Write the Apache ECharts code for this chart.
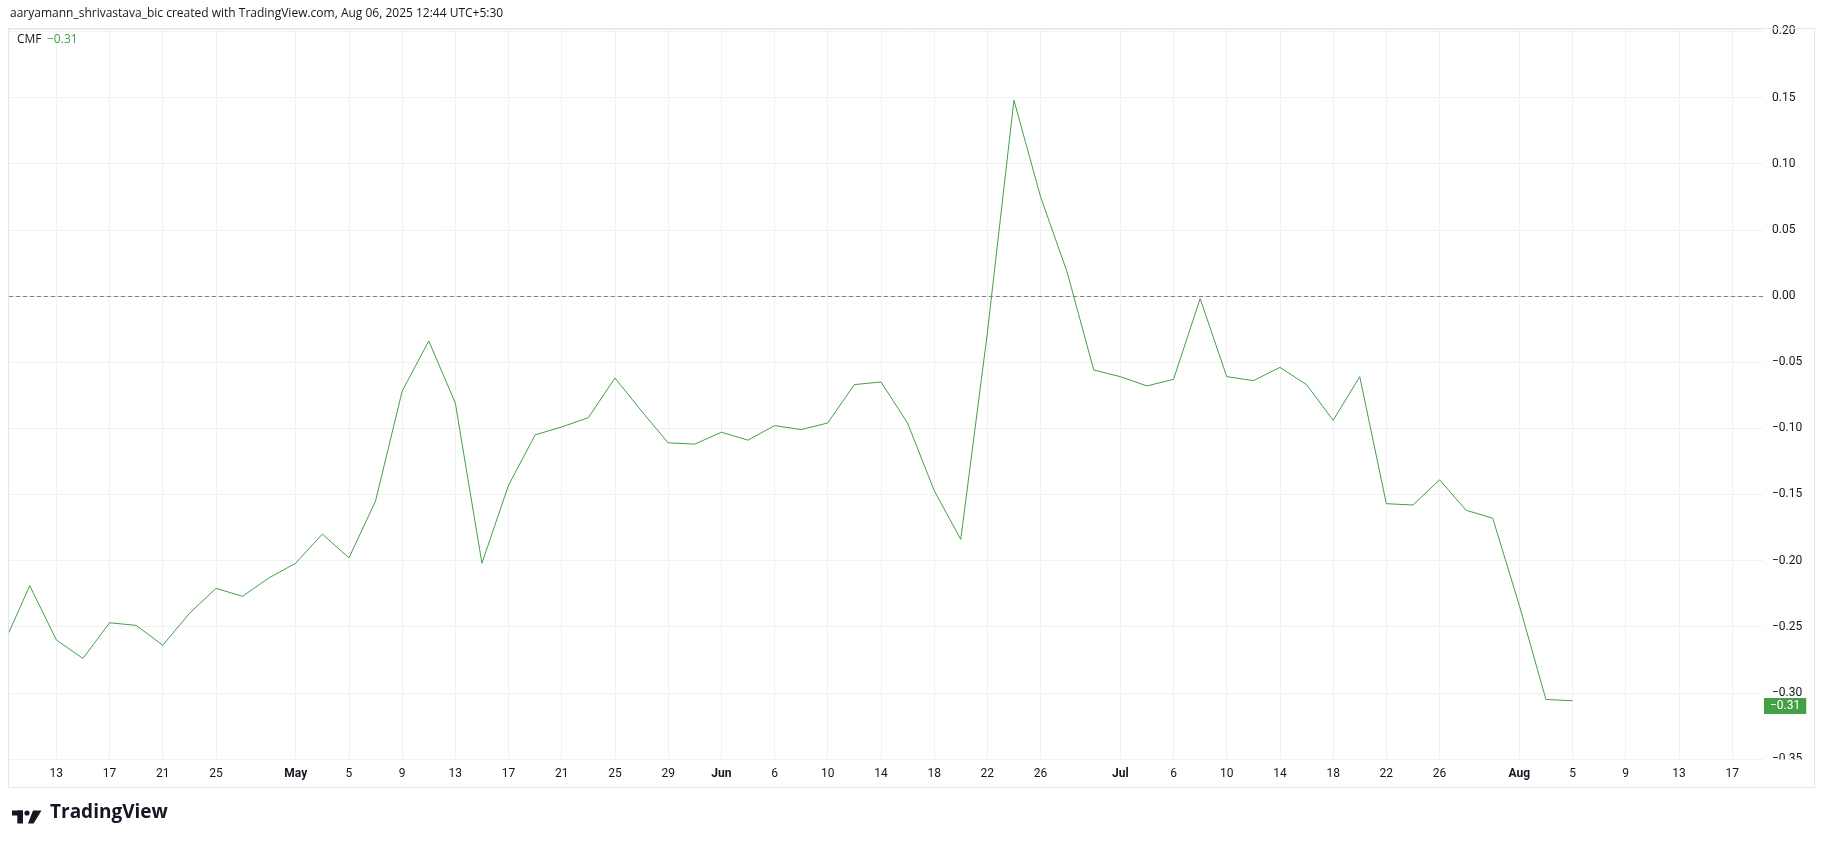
<!DOCTYPE html>
<html>
<head>
<meta charset="utf-8">
<script src="https://cdn.jsdelivr.net/npm/echarts@6/dist/echarts.min.js"></script>
<style>
html,body{margin:0;padding:0;background:#fff;}
#chart{width:1825px;height:849px;}
</style>
</head>
<body>
<div id="chart"></div>
<script>
// ---- data (2-day bars) ----
const barDates = [
  '2025-04-09','2025-04-11','2025-04-13','2025-04-15','2025-04-17','2025-04-19','2025-04-21','2025-04-23','2025-04-25','2025-04-27','2025-04-29',
  '2025-05-01','2025-05-03','2025-05-05','2025-05-07','2025-05-09','2025-05-11','2025-05-13','2025-05-15','2025-05-17','2025-05-19','2025-05-21','2025-05-23','2025-05-25','2025-05-27','2025-05-29','2025-05-31',
  '2025-06-02','2025-06-04','2025-06-06','2025-06-08','2025-06-10','2025-06-12','2025-06-14','2025-06-16','2025-06-18','2025-06-20','2025-06-22','2025-06-24','2025-06-26','2025-06-28','2025-06-30',
  '2025-07-02','2025-07-04','2025-07-06','2025-07-08','2025-07-10','2025-07-12','2025-07-14','2025-07-16','2025-07-18','2025-07-20','2025-07-22','2025-07-24','2025-07-26','2025-07-28','2025-07-30',
  '2025-08-01','2025-08-03','2025-08-05'
];
const cmfValues = [
  -0.264,-0.219,-0.260,-0.274,-0.247,-0.249,-0.264,-0.240,-0.221,-0.227,-0.213,
  -0.202,-0.180,-0.198,-0.155,-0.072,-0.034,-0.081,-0.202,-0.143,-0.105,-0.099,-0.092,-0.062,-0.087,-0.111,-0.112,
  -0.103,-0.109,-0.098,-0.101,-0.096,-0.067,-0.065,-0.096,-0.147,-0.184,-0.028,0.148,0.075,0.018,-0.056,
  -0.061,-0.068,-0.063,-0.002,-0.061,-0.064,-0.054,-0.067,-0.094,-0.061,-0.157,-0.158,-0.139,-0.162,-0.168,
  -0.234,-0.305,-0.306
];
const xTickDates = [
  '2025-04-13','2025-04-17','2025-04-21','2025-04-25','2025-05-01','2025-05-05','2025-05-09','2025-05-13','2025-05-17','2025-05-21','2025-05-25','2025-05-29',
  '2025-06-02','2025-06-06','2025-06-10','2025-06-14','2025-06-18','2025-06-22','2025-06-26',
  '2025-07-02','2025-07-06','2025-07-10','2025-07-14','2025-07-18','2025-07-22','2025-07-26',
  '2025-08-01','2025-08-05','2025-08-09','2025-08-13','2025-08-17'
];
const xTickLabels = [
  '13','17','21','25','May','5','9','13','17','21','25','29',
  'Jun','6','10','14','18','22','26',
  'Jul','6','10','14','18','22','26',
  'Aug','5','9','13','17'
];
const monthLabels = ['May','Jun','Jul','Aug'];
const yMin = -0.35, yMax = 0.2018, yStep = 0.05;
const xMinDay = 0.44, xMaxDay = 132.32;
const indicatorName = 'CMF';
const headerText = 'aaryamann_shrivastava_bic created with TradingView.com, Aug 06, 2025 12:44 UTC+5:30';

// ---- build ----
const origin = Date.parse(barDates[0]);
const dayOf = d => Math.round((Date.parse(d) - origin) / 86400000);
const lineData = barDates.map((d, i) => [dayOf(d), cmfValues[i]]);
const tickDays = xTickDates.map(dayOf);
const labelByDay = {};
tickDays.forEach((d, i) => { labelByDay[d] = xTickLabels[i]; });
const fmtNum = v => (v < 0 ? '\u2212' : '') + Math.abs(v).toFixed(2);
const lastVal = cmfValues[cmfValues.length - 1];

const FONT = 'Roboto, "Noto Sans", sans-serif';
const HFONT = '"Open Sans", Roboto, sans-serif';
const TXT = '#131722';
const GREEN = '#43a047';
const GRID = '#f0f1f3';
const BORDER = '#e3e5ea';

const chart = echarts.init(document.getElementById('chart'), null, {renderer: 'canvas'});
chart.setOption({
  animation: false,
  backgroundColor: '#fff',
  textStyle: {fontFamily: FONT},
  grid: {left: 9, top: 29, width: 1754, height: 730, containLabel: false, outerBoundsMode: 'none'},
  xAxis: {
    type: 'value', min: xMinDay, max: xMaxDay,
    axisLine: {show: true, lineStyle: {color: BORDER, width: 1}},
    axisTick: {show: false, customValues: tickDays},
    splitLine: {show: true, lineStyle: {color: GRID, width: 1}},
    axisLabel: {
      customValues: tickDays,
      margin: 9,
      color: TXT, fontSize: 12, fontFamily: FONT,
      formatter: v => {
        const t = labelByDay[Math.round(v)] || '';
        return monthLabels.indexOf(t) >= 0 ? '{m|' + t + '}' : t;
      },
      rich: {m: {fontWeight: 'bold', fontSize: 12, color: TXT, fontFamily: FONT}}
    }
  },
  yAxis: {
    type: 'value', position: 'right', min: yMin, max: yMax, interval: yStep,
    axisLine: {show: false}, axisTick: {show: false},
    splitLine: {show: true, lineStyle: {color: GRID, width: 1}},
    axisLabel: {
      align: 'left', margin: 9, color: TXT, fontSize: 12, fontFamily: FONT,
      formatter: v => {
        const k = Math.round(v / yStep);
        if (Math.abs(v - k * yStep) > 1e-6) return '';
        return fmtNum(k * yStep);
      }
    }
  },
  series: [
    {
      name: 'zero', type: 'line', data: [], silent: true,
      markLine: {
        silent: true, symbol: 'none', animation: false,
        label: {show: false},
        lineStyle: {color: '#80828a', type: [4, 3], width: 1},
        data: [{yAxis: 0}]
      }
    },
    {
      name: indicatorName, type: 'line', data: lineData, showSymbol: false, symbol: 'none',
      lineStyle: {color: GREEN, width: 1}, z: 3, clip: true,
      markLine: {
        silent: true, symbol: 'none', animation: false,
        lineStyle: {color: 'rgba(0,0,0,0)', width: 1, type: 'solid'},
        label: {
          show: true, position: 'end', distance: 1,
          formatter: () => fmtNum(lastVal),
          backgroundColor: GREEN, color: '#ffffff', fontSize: 12, fontFamily: FONT,
          padding: [2, 6, 2, 6], lineHeight: 12, opacity: 1
        },
        data: [{yAxis: lastVal}]
      }
    }
  ],
  graphic: [
    {type: 'rect', z: 100, silent: true, shape: {x: 1764, y: 759.5, width: 50, height: 28}, style: {fill: '#fff'}},
    {type: 'rect', z: 110, silent: true, shape: {x: 8.5, y: 28.5, width: 1806, height: 759}, style: {fill: 'none', stroke: BORDER, lineWidth: 1}},
    {type: 'text', z: 110, left: 10, top: 8, style: {text: headerText, fill: TXT, font: '12px ' + HFONT}},
    {type: 'text', z: 110, left: 17, top: 34, style: {text: indicatorName, fill: TXT, font: '12px ' + HFONT}},
    {type: 'text', z: 110, left: 47, top: 34, style: {text: fmtNum(lastVal), fill: GREEN, font: '12px ' + HFONT}},
    // TradingView logo
    {type: 'rect', z: 110, shape: {x: 12, y: 810.5, width: 11, height: 5}, style: {fill: TXT}},
    {type: 'rect', z: 110, shape: {x: 17.3, y: 810.5, width: 5.7, height: 13}, style: {fill: TXT}},
    {type: 'circle', z: 110, shape: {cx: 27, cy: 813, r: 2.6}, style: {fill: TXT}},
    {type: 'polygon', z: 110, shape: {points: [[33, 810.5], [41.5, 810.5], [33.6, 823.5], [28, 823.5]]}, style: {fill: TXT}},
    {type: 'text', z: 110, left: 50, top: 803, style: {text: 'TradingView', fill: TXT, font: 'bold 19px ' + HFONT}}
  ]
});
</script>
</body>
</html>
